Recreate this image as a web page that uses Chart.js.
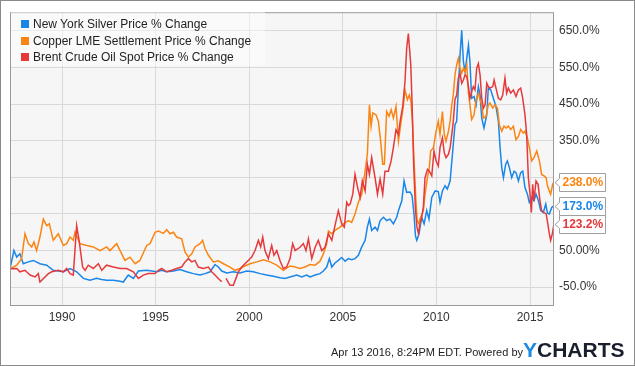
<!DOCTYPE html>
<html>
<head>
<meta charset="utf-8">
<script src="https://cdn.jsdelivr.net/npm/chart.js@4/dist/chart.umd.min.js"></script>
<style>
  html, body { margin: 0; padding: 0; background: #fff; }
  #wrap { position: relative; width: 635px; height: 366px; font-family: "Liberation Sans", Arial, sans-serif; }
  #legend { position: absolute; left: 11px; top: 11px; width: 254px; height: 55px; background: rgba(255,255,255,0.45); }
  .item { position: absolute; left: 10px; font-size: 12px; line-height: 14px; color: #222; white-space: nowrap; }
  .sq { display: inline-block; width: 8px; height: 8px; margin-right: 4px; vertical-align: 0px; }
  #stamp { position: absolute; left: 331px; top: 347px; font-size: 11px; line-height: 11px; color: #222; white-space: nowrap; }
  #logo { position: absolute; left: 523px; top: 339px; font-size: 21px; line-height: 21px; font-weight: bold; color: #1a1f2e; white-space: nowrap; }
  #logo b { color: #1a8ae6; }
</style>
</head>
<body>
<div id="wrap">
  <canvas id="chart" width="635" height="366"></canvas>
  <div id="legend"></div>
  <div id="stamp">Apr 13 2016, 8:24PM EDT. Powered by</div>
  <div id="logo"><b>Y</b>CHARTS</div>
</div>
<script>
// New York Silver Price % Change
let silverYears = [1987.22,1987.43,1987.58,1987.75,1987.93,1988.20,1988.47,1988.82,1989.18,1989.53,1989.80,1990.07,1990.43,1990.78,1991.14,1991.49,1991.85,1992.12,1992.38,1992.74,1993.10,1993.27,1993.54,1993.81,1994.08,1994.52,
  1995.06,1995.32,1995.59,1995.95,1996.30,1996.66,1997.01,1997.37,1997.64,1997.91,1998.17,1998.35,1998.53,1998.80,1999.15,1999.51,1999.86,2000.22,2000.58,2000.93,2001.29,2001.64,2001.91,2002.18,
  2002.54,2002.80,2003.07,2003.25,2003.52,2003.78,2003.96,2004.14,2004.28,2004.41,2004.58,2004.76,2004.94,2005.12,2005.30,2005.47,2005.65,2005.83,2006.01,2006.19,2006.31,2006.42,2006.54,2006.72,2006.85,2006.99,
  2007.17,2007.34,2007.52,2007.70,2007.88,2007.97,2008.15,2008.27,2008.41,2008.59,2008.70,2008.80,2008.88,2008.95,2009.07,2009.21,2009.34,2009.48,2009.60,2009.75,2009.93,2010.10,2010.19,2010.32,2010.46,2010.58,
  2010.73,2010.87,2010.99,2011.08,2011.19,2011.26,2011.35,2011.44,2011.53,2011.62,2011.71,2011.79,2011.88,2012.01,2012.12,2012.24,2012.33,2012.42,2012.54,2012.69,2012.77,2012.90,2013.04,2013.18,2013.31,2013.40,
  2013.49,2013.58,2013.70,2013.79,2013.90,2014.02,2014.15,2014.25,2014.38,2014.50,2014.61,2014.73,2014.86,2014.96,2015.09,2015.21,2015.32,2015.45,2015.57,2015.71,2015.84,2015.93,2016.03,2016.16,2016.28];
let silverPct = [0,50,32,41,14,19,23,14,10,-4,-6,-8,1,-8,-26,-31,-26,-29,-31,-31,-34,-36,-17,-26,-6,-4,
  -8,-4,-8,-6,-2,-8,-13,-17,-13,-8,12,5,-6,-11,-8,-11,-6,-8,-13,-17,-20,-24,-26,-22,
  -17,-22,-17,-22,-17,-13,-6,5,28,5,16,23,31,21,28,25,28,37,60,78,114,136,105,114,105,132,
  141,132,136,123,141,159,186,240,209,210,200,150,90,78,96,141,123,159,136,195,213,211,182,213,227,218,
  240,322,394,403,512,584,652,566,539,575,611,566,466,471,448,498,475,412,385,421,494,489,466,444,403,331,
  276,249,286,295,276,249,267,263,240,263,267,222,204,182,195,186,204,186,159,154,177,152,150,168,173];

// Copper LME Settlement Price % Change
let copperYears = [1987.22,1987.58,1987.84,1988.02,1988.20,1988.38,1988.50,1988.64,1988.82,1989.00,1989.18,1989.32,1989.53,1989.80,1990.07,1990.25,1990.43,1990.60,1990.69,1990.96,1991.32,1991.67,1992.03,1992.38,1992.56,1992.92,
  1993.10,1993.36,1993.63,1993.90,1994.16,1994.52,1994.70,1994.97,1995.15,1995.41,1995.59,1995.77,1995.95,1996.12,1996.39,1996.57,1996.75,1996.93,1997.10,1997.37,1997.51,1997.64,1997.82,1998.08,1998.35,1998.62,
  1998.97,1999.24,1999.51,1999.86,2000.04,2000.40,2000.75,2001.11,2001.47,2001.82,2002.18,2002.45,2002.71,2002.98,2003.25,2003.52,2003.78,2003.96,2004.14,2004.23,2004.41,2004.58,2004.85,2005.03,2005.30,2005.47,
  2005.65,2005.83,2006.01,2006.19,2006.31,2006.42,2006.51,2006.60,2006.77,2006.90,2007.02,2007.13,2007.22,2007.34,2007.47,2007.58,2007.70,2007.84,2007.97,2008.09,2008.23,2008.32,2008.45,2008.55,2008.64,2008.72,
  2008.80,2008.90,2008.97,2009.04,2009.16,2009.30,2009.39,2009.52,2009.62,2009.69,2009.84,2009.98,2010.10,2010.19,2010.32,2010.42,2010.51,2010.64,2010.73,2010.82,2010.90,2010.99,2011.08,2011.17,2011.26,2011.35,
  2011.44,2011.53,2011.62,2011.71,2011.79,2011.88,2012.01,2012.12,2012.24,2012.33,2012.42,2012.51,2012.65,2012.77,2012.86,2013.01,2013.13,2013.26,2013.36,2013.49,2013.61,2013.72,2013.84,2013.97,2014.11,2014.25,
  2014.38,2014.50,2014.64,2014.73,2014.86,2014.96,2015.09,2015.21,2015.36,2015.50,2015.62,2015.75,2015.86,2015.93,2016.03,2016.10,2016.21,2016.28];
let copperPct = [0,10,28,96,69,60,73,50,87,136,118,123,78,96,64,69,87,78,100,69,64,60,50,60,50,69,
  50,23,32,14,23,64,69,100,103,97,107,96,100,87,82,46,32,41,60,69,78,55,37,19,22,14,
  5,-4,1,10,14,19,25,19,10,-4,8,5,1,5,12,10,21,41,69,103,96,105,114,123,132,127,
  150,182,204,267,313,448,390,426,421,403,349,286,286,430,417,435,412,444,349,394,444,489,462,475,457,400,
  300,190,130,125,141,159,204,249,277,322,331,376,403,367,430,367,349,376,403,448,475,530,557,575,548,534,
  548,539,557,480,448,408,421,462,480,462,448,412,417,448,453,439,448,439,394,376,390,385,390,381,390,353,
  362,381,371,376,358,331,295,304,322,295,258,254,249,227,213,204,231,238];

// Brent Crude Oil Spot Price % Change (null = gap in the series)
let brentYears = [1987.22,1987.58,1987.75,1988.02,1988.29,1988.56,1988.73,1988.82,1989.09,1989.27,1989.45,1989.80,1990.07,1990.25,1990.43,1990.60,1990.78,1990.91,1991.10,1991.23,1991.40,1991.67,1991.94,1992.12,1992.38,1992.74,
  1993.10,1993.45,1993.81,1994.08,1994.34,1994.61,1994.97,1995.15,1995.32,1995.59,1995.86,1996.12,1996.39,1996.57,1996.75,1996.93,1997.10,1997.28,1997.55,1997.82,1997.99,1998.17,1998.44,1998.53,1998.62,1998.76,
  1998.97,1999.15,1999.29,1999.42,1999.60,1999.77,1999.95,2000.13,2000.31,2000.49,2000.61,2000.72,2000.84,2001.02,2001.20,2001.32,2001.47,2001.64,2001.82,2002.00,2002.18,2002.32,2002.45,2002.71,2002.89,2003.03,
  2003.16,2003.34,2003.52,2003.69,2003.87,2004.05,2004.23,2004.41,2004.58,2004.76,2004.94,2005.08,2005.21,2005.30,2005.39,2005.53,2005.65,2005.79,2005.92,2006.04,2006.19,2006.31,2006.42,2006.54,2006.72,2006.85,
  2006.99,2007.13,2007.25,2007.43,2007.58,2007.70,2007.84,2007.97,2008.06,2008.20,2008.32,2008.41,2008.50,2008.63,2008.70,2008.78,2008.88,2008.96,2009.04,2009.12,2009.21,2009.30,2009.39,2009.52,2009.62,2009.75,
  2009.87,2009.98,2010.10,2010.19,2010.32,2010.42,2010.51,2010.64,2010.73,2010.82,2010.90,2010.99,2011.08,2011.17,2011.26,2011.35,2011.44,2011.53,2011.62,2011.71,2011.79,2011.88,2011.97,2012.06,2012.15,2012.24,
  2012.33,2012.42,2012.51,2012.60,2012.69,2012.77,2012.86,2013.01,2013.08,2013.18,2013.31,2013.43,2013.54,2013.66,2013.75,2013.84,2013.97,2014.11,2014.25,2014.38,2014.50,2014.61,2014.73,2014.82,2014.91,2015.00,
  2015.07,2015.14,2015.21,2015.32,2015.43,2015.53,2015.62,2015.75,2015.86,2015.95,2016.03,2016.10,2016.19,2016.28];
let brentPct = [0,1,-8,-4,-17,-22,-13,-36,-22,-13,-8,-4,-8,1,-13,-17,118,78,5,-4,10,1,14,-4,10,5,
  1,1,-8,-26,-17,-13,-13,-4,1,-8,-4,1,5,19,28,19,23,5,1,5,-8,-17,-31,-35,null,-26,
  -45,-45,-26,-8,5,14,23,32,50,78,60,87,50,28,64,37,50,23,1,5,28,69,50,59,69,50,
  82,28,59,78,50,59,96,78,118,159,123,114,182,173,177,204,258,222,195,240,213,286,258,304,249,204,
  245,204,267,267,295,331,380,367,403,444,512,602,643,557,450,290,160,114,96,123,141,168,249,272,267,254,
  322,295,281,331,358,317,304,313,331,367,403,462,475,521,534,507,516,530,525,498,466,484,498,489,548,561,
  530,466,439,448,507,498,494,498,516,494,466,462,475,521,480,494,480,489,471,489,494,466,421,367,249,204,
  154,231,186,240,231,186,159,154,150,123,96,78,96,123.2];

let seriesNames = ['New York Silver Price % Change', 'Copper LME Settlement Price % Change', 'Brent Crude Oil Spot Price % Change'];
let seriesColors = ['#1a86e8', '#fb8512', '#e6393b'];
let yearTicks = [1990, 1995, 2000, 2005, 2010, 2015];
let pctTicks = [-50, 50, 150, 250, 350, 450, 550, 650];
let pctTickLabels = ['-50.0%', '50.00%', '150.0%', '250.0%', '350.0%', '450.0%', '550.0%', '650.0%'];

let allYears = [silverYears, copperYears, brentYears];
let allPct = [silverPct, copperPct, brentPct];
let lastVals = allPct.map(a => a[a.length - 1]);

let datasets = [];
for (let i = 0; i < 3; i++) {
  datasets.push({
    label: seriesNames[i],
    data: allYears[i].map((yr, j) => ({ x: yr, y: allPct[i][j] })),
    borderColor: seriesColors[i],
    borderWidth: 1.5,
    pointRadius: 0,
    tension: 0,
    spanGaps: false,
    order: 3 - i
  });
}

// legend (html, sits inside the plot)
let legend = document.getElementById('legend');
seriesNames.forEach((n, i) => {
  legend.innerHTML += `<div class="item" style="top:${6 + i * 16.5}px"><span class="sq" style="background:${seriesColors[i]}"></span>${n}</div>`;
});

let frame = {
  id: 'frame',
  beforeDraw(chart) {
    let c = chart.ctx, a = chart.chartArea;
    c.save();
    c.fillStyle = '#fff';
    c.fillRect(0, 0, chart.width, chart.height);
    c.fillStyle = '#f6f6f6';
    c.fillRect(a.left, a.top, a.right - a.left, a.bottom - a.top);
    c.strokeStyle = '#8a8a8a';
    c.lineWidth = 1;
    c.strokeRect(0.5, 0.5, chart.width - 1, chart.height - 1);
    c.restore();
  },
  afterDraw(chart) {
    let c = chart.ctx, a = chart.chartArea, ys = chart.scales.y;
    c.save();
    c.strokeStyle = '#9a9a9a';
    c.lineWidth = 1;
    c.strokeRect(a.left + 0.5, a.top + 0.5, a.right - a.left - 1, a.bottom - a.top);
    // end value flags
    c.font = 'bold 12px "Liberation Sans", Arial, sans-serif';
    c.textBaseline = 'middle';
    lastVals.forEach((v, i) => {
      let y = Math.round(ys.getPixelForValue(v)) + 0.5;
      let x0 = a.right + 5.5, w = 46, h = 18;
      c.beginPath();
      c.moveTo(x0, y - h / 2);
      c.lineTo(x0 + w, y - h / 2);
      c.lineTo(x0 + w, y + h / 2);
      c.lineTo(x0, y + h / 2);
      c.lineTo(x0, y + 4);
      c.lineTo(a.right + 1, y);
      c.lineTo(x0, y - 4);
      c.closePath();
      c.fillStyle = '#fff';
      c.fill();
      c.strokeStyle = '#a0a0a0';
      c.stroke();
      c.fillStyle = seriesColors[i];
      c.fillText(v.toFixed(1) + '%', x0 + 3, y + 0.5);
    });
    c.restore();
  }
};

new Chart('chart', {
  type: 'line',
  data: { datasets: datasets },
  options: {
    responsive: false,
    animation: false,
    devicePixelRatio: 1,
    layout: { padding: { left: 10, top: 10, right: 0, bottom: 0 } },
    plugins: { legend: { display: false }, tooltip: { enabled: false } },
    scales: {
      x: {
        type: 'linear',
        min: 1987.22,
        max: 2016.28,
        afterBuildTicks: s => { s.ticks = yearTicks.map(v => ({ value: v })); },
        afterFit: s => { s.height = 61; },
        grid: { color: '#d9d9d9', drawTicks: false },
        border: { display: false },
        ticks: {
          padding: 5,
          color: '#333',
          font: { family: '"Liberation Sans", Arial, sans-serif', size: 12 },
          maxRotation: 0,
          callback: v => String(v)
        }
      },
      y: {
        position: 'right',
        min: -98.75,
        max: 701.25,
        afterBuildTicks: s => { s.ticks = pctTicks.map(v => ({ value: v })); },
        afterFit: s => { s.width = 81; },
        grid: { color: '#d9d9d9', drawTicks: false },
        border: { display: false },
        ticks: {
          padding: 5,
          color: '#333',
          font: { family: '"Liberation Sans", Arial, sans-serif', size: 12 },
          // labels that would sit under an end-value flag are hidden
          callback: v => lastVals.some(l => Math.abs(l - v) < 60) ? '' : pctTickLabels[pctTicks.indexOf(v)]
        }
      }
    }
  },
  plugins: [frame]
});
</script>
</body>
</html>
